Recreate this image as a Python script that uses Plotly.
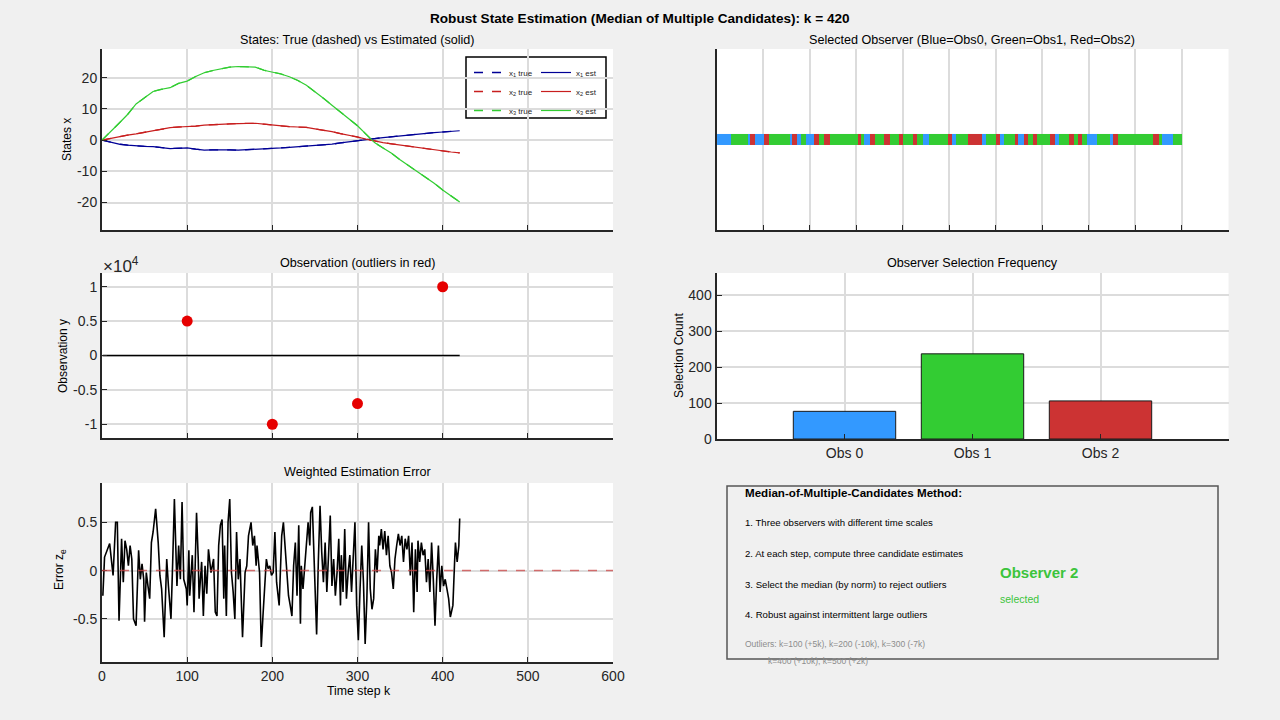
import plotly.graph_objects as go

# ---------------- data ----------------
state_k = [0, 10, 20, 30, 40, 50, 60, 70, 80, 90, 100, 110, 120, 130, 140, 150, 160, 170, 180, 190, 200,
           210, 220, 230, 240, 250, 260, 270, 280, 290, 300, 310, 320, 330, 340, 350, 360, 370, 380, 390,
           400, 410, 420]
x1_vals = [0, -0.7, -1.3, -1.6, -1.9, -2.0, -2.1, -2.4, -2.7, -2.6, -2.5, -2.9, -3.2, -3.1, -3.0, -3.1,
           -3.2, -3.1, -3.0, -2.8, -2.7, -2.5, -2.3, -2.1, -1.9, -1.7, -1.6, -1.3, -0.9, -0.5, -0.1, 0.2,
           0.5, 0.8, 1.1, 1.3, 1.6, 1.9, 2.2, 2.4, 2.6, 2.8, 3.0]
x2_vals = [0, 0.6, 1.1, 1.6, 2.0, 2.5, 3.0, 3.5, 4.0, 4.2, 4.3, 4.5, 4.8, 5.0, 5.1, 5.2, 5.3, 5.3, 5.4,
           5.1, 4.8, 4.5, 4.3, 4.2, 4.1, 3.6, 3.2, 2.7, 2.1, 1.6, 1.0, 0.3, -0.3, -0.8, -1.2, -1.6, -2.0,
           -2.4, -2.8, -3.2, -3.5, -3.8, -4.1]
x3_vals = [0, 2.6, 5.4, 8.2, 11.6, 13.6, 15.6, 16.3, 16.8, 18.2, 18.9, 20.4, 21.6, 22.3, 22.8, 23.4,
           23.6, 23.5, 23.4, 22.4, 21.9, 21.2, 20.3, 19.1, 17.6, 15.6, 13.4, 11.2, 8.9, 6.8, 4.6, 1.9,
           -0.8, -2.5, -4.2, -6.3, -8.2, -10.1, -11.9, -13.8, -16.0, -17.9, -19.8]
state_ticks = [-20, -10, 0, 10, 20]

obs_k = [1, 20, 40, 60, 80, 100, 120, 140, 160, 180, 200, 220, 240, 260, 280, 300, 320, 340, 360, 380, 400, 420]
obs_y = [0, -1.2, -1.9, -2.1, -2.7, -2.5, -3.2, -3.0, -3.2, -3.0, -2.7, -2.3, -1.9, -1.6, -0.9, -0.1,
         0.5, 1.1, 1.6, 2.2, 2.6, 3.0]
outlier_k = [100, 200, 300, 400]
outlier_y = [5000, -10000, -7000, 10000]
obs_ticks = [-10000, -5000, 0, 5000, 10000]
obs_tick_text = ["-1", "-0.5", "0", "0.5", "1"]

# selected observer history as run-lengths (observer index, number of steps)
sel_runs = [(0, 13), (1, 15), (0, 2), (2, 4), (0, 8), (2, 5), (1, 19), (0, 2), (2, 4), (0, 4), (1, 4),
            (0, 8), (2, 4), (1, 5), (2, 5), (1, 25), (2, 3), (1, 3), (0, 5), (2, 5), (1, 8), (2, 5),
            (1, 8), (2, 4), (1, 9), (2, 4), (1, 5), (0, 5), (1, 18), (2, 3), (0, 4), (1, 11), (2, 12),
            (0, 4), (1, 9), (2, 4), (0, 3), (1, 10), (2, 3), (0, 5), (2, 4), (1, 4), (2, 4), (1, 12),
            (2, 4), (0, 4), (1, 9), (2, 4), (1, 4), (2, 4), (1, 4), (0, 9), (1, 12), (0, 3), (2, 4),
            (1, 32), (2, 5), (1, 3), (0, 10), (1, 8)]

obs_names = ["Obs 0", "Obs 1", "Obs 2"]
obs_positions = [1, 2, 3]
sel_counts = [77, 237, 106]
count_ticks = [0, 100, 200, 300, 400]

err_k = [1, 3, 9, 13, 16, 18, 20, 23, 25, 27, 29, 31, 33, 35, 37, 40, 43, 45, 47, 49, 50, 52, 54, 56, 58,
         60, 63, 66, 68, 70, 73, 76, 78, 81, 83, 85, 88, 90, 92, 94, 96, 99, 100, 102, 103, 106, 108, 111,
         113, 114, 117, 119, 121, 123, 125, 128, 131, 133, 135, 137, 139, 141, 143, 144, 146, 148, 150,
         152, 154, 156, 158, 160, 162, 165, 168, 170, 172, 175, 177, 179, 181, 182, 185, 187, 189, 191,
         193, 195, 197, 199, 201, 203, 205, 208, 211, 213, 215, 217, 219, 221, 223, 225, 227, 229, 231,
         233, 234, 236, 240, 242, 244, 245, 247, 249, 252, 254, 256, 258, 260, 262, 264, 266, 268, 270,
         272, 274, 276, 278, 280, 281, 283, 285, 287, 289, 291, 293, 295, 297, 299, 301, 303, 305, 307,
         309, 311, 313, 315, 317, 319, 321, 323, 325, 326, 328, 330, 332, 334, 336, 338, 340, 342, 344,
         346, 348, 350, 352, 354, 356, 358, 360, 362, 364, 366, 368, 370, 371, 373, 375, 377, 379, 381,
         383, 385, 387, 389, 391, 393, 395, 397, 399, 401, 403, 405, 407, 409, 412, 414, 415, 417, 419, 420]
err_v = [-0.26, 0.14, 0.28, -0.05, 0.50, 0.50, -0.52, 0.33, -0.12, 0.31, 0.22, 0.05, 0.26, 0.12, -0.50,
         -0.57, 0.21, -0.09, 0.07, -0.09, -0.53, -0.02, -0.16, -0.29, 0.29, 0.40, 0.64, 0.29, -0.05, -0.19,
         -0.69, 0.12, -0.16, -0.50, 0.09, 0.74, -0.16, 0.26, -0.09, 0.71, -0.09, -0.19, -0.36, 0.21, -0.26,
         0.16, -0.43, 0.60, 0.12, -0.29, 0.09, -0.47, 0.05, -0.24, 0.22, -0.02, 0.12, -0.43, -0.47, 0.26,
         0.47, 0.53, -0.29, 0.26, -0.47, 0.50, 0.74, -0.02, -0.22, -0.50, 0.40, -0.09, 0.12, -0.69, -0.02,
         0.05, 0.36, 0.50, 0.26, 0.36, 0.05, 0.26, -0.02, -0.79, -0.47, -0.19, 0.12, 0.02, 0.05, -0.05,
         -0.02, 0.40, -0.12, -0.36, 0.36, 0.50, 0.26, 0.02, -0.26, -0.36, -0.47, 0.05, 0.29, -0.26, 0.47,
         -0.55, 0.05, -0.19, 0.29, 0.50, 0.26, 0.60, 0.66, 0.19, -0.66, 0.09, 0.67, 0.19, -0.12, 0.29,
         -0.22, 0.16, 0.57, -0.16, 0.12, -0.26, -0.02, 0.33, -0.36, 0.16, -0.22, 0.43, -0.29, -0.02, 0.16,
         -0.22, 0.16, 0.50, -0.36, -0.72, -0.19, 0.26, -0.12, -0.76, -0.29, 0.50, -0.19, -0.40, -0.29,
         0.22, -0.02, 0.36, 0.26, 0.43, 0.22, 0.41, 0.16, 0.36, 0.05, -0.02, -0.19, 0.12, 0.26, 0.38,
         0.26, 0.36, 0.09, 0.33, 0.22, 0.36, -0.05, 0.29, -0.43, 0.22, -0.22, 0.31, 0.09, 0.29, 0.16, 0.22,
         -0.12, 0.12, -0.22, 0.29, -0.09, -0.57, -0.09, 0.26, -0.22, 0.05, -0.16, -0.09, -0.19, -0.29,
         -0.48, -0.36, 0.09, 0.29, 0.09, 0.26, 0.54]
err_ticks = [-0.5, 0, 0.5]
err_tick_text = ["-0.5", "0", "0.5"]

k_now = 420
time_ticks = [0, 100, 200, 300, 400, 500, 600]

# ---------------- style ----------------
FONT = "Liberation Sans, Arial, Helvetica, sans-serif"
W, H = 1280, 720
BG = "#F0F0F0"
AX = "#262626"
GRID = "#DCDCDC"
C_BLUE_LINE = "rgb(0,0,150)"
C_RED_LINE = "rgb(200,30,30)"
C_GREEN_LINE = "rgb(50,205,50)"
C_OBS = ["rgb(51,153,255)", "rgb(51,204,51)", "rgb(204,51,51)"]


def fx(p):
    return p / W


def fy(p):
    return 1 - p / H


sel_seq = []
for obs, n in sel_runs:
    sel_seq.extend([obs] * n)
sel_steps = list(range(1, len(sel_seq) + 1))

fig = go.Figure()

# states (true dashed, est solid)
for name, vals, col in [("1", x1_vals, C_BLUE_LINE), ("2", x2_vals, C_RED_LINE), ("3", x3_vals, C_GREEN_LINE)]:
    fig.add_trace(go.Scatter(x=state_k, y=vals, mode="lines", line=dict(color=col, width=1.3, dash="dash"),
                             name=f"x<sub>{name}</sub> true", xaxis="x", yaxis="y", legend="legend"))
for name, vals, col in [("1", x1_vals, C_BLUE_LINE), ("2", x2_vals, C_RED_LINE), ("3", x3_vals, C_GREEN_LINE)]:
    fig.add_trace(go.Scatter(x=state_k, y=vals, mode="lines", line=dict(color=col, width=1.2),
                             name=f"x<sub>{name}</sub> est", xaxis="x", yaxis="y", legend="legend2"))

# selected observer strip
fig.add_trace(go.Heatmap(x=sel_steps, y=[0], z=[sel_seq], zmin=0, zmax=2, showscale=False,
                         colorscale=[[0, C_OBS[0]], [0.333, C_OBS[0]], [0.334, C_OBS[1]], [0.666, C_OBS[1]],
                                     [0.667, C_OBS[2]], [1, C_OBS[2]]],
                         xaxis="x2", yaxis="y2", hoverinfo="skip"))

# observations
fig.add_trace(go.Scatter(x=obs_k, y=obs_y, mode="lines", line=dict(color="black", width=1.5),
                         xaxis="x3", yaxis="y3", showlegend=False))
fig.add_trace(go.Scatter(x=outlier_k, y=outlier_y, mode="markers", marker=dict(color="#E60000", size=11),
                         xaxis="x3", yaxis="y3", showlegend=False))

# selection frequency
fig.add_trace(go.Bar(x=obs_positions, y=sel_counts, width=0.8,
                     marker=dict(color=C_OBS, line=dict(color="#1a1a1a", width=1)),
                     xaxis="x4", yaxis="y4", showlegend=False))

# error
fig.add_trace(go.Scatter(x=err_k, y=err_v, mode="lines", line=dict(color="black", width=1.6),
                         xaxis="x5", yaxis="y5", showlegend=False))

common = dict(showline=True, linecolor=AX, linewidth=2, ticks="inside", ticklen=5, tickwidth=1.3,
              tickcolor=AX, showgrid=True, gridcolor=GRID, gridwidth=1.5, zeroline=False, automargin=False,
              tickfont=dict(family=FONT, size=14, color=AX))

L = (102, 613)
R = (716.5, 1228.5)


def dom_x(a):
    return [fx(a[0]), fx(a[1])]


def dom_y(top, bot):
    return [fy(bot), fy(top)]


fig.update_layout(
    width=W, height=H, autosize=False, margin=dict(l=0, r=0, t=0, b=0, pad=0),
    paper_bgcolor=BG, plot_bgcolor="white",
    font=dict(family=FONT, color=AX),
    xaxis=dict(common, domain=dom_x(L), range=[0, 600], tickvals=time_ticks, showticklabels=False, anchor="y"),
    yaxis=dict(common, domain=dom_y(49, 230), range=[-28.8, 29.2], tickvals=state_ticks,
               ticktext=[str(v) for v in state_ticks], anchor="x"),
    xaxis2=dict(common, domain=dom_x(R), range=[0, 1.1 * k_now], dtick=42, tick0=0, showticklabels=False,
                anchor="y2"),
    yaxis2=dict(common, domain=dom_y(49, 230), range=[-8.2, 8.2], showgrid=False, ticks="",
                showticklabels=False, anchor="x2"),
    xaxis3=dict(common, domain=dom_x(L), range=[0, 600], tickvals=time_ticks, showticklabels=False, anchor="y3"),
    yaxis3=dict(common, domain=dom_y(273, 438), range=[-12000, 12000],
                tickvals=obs_ticks, ticktext=obs_tick_text, anchor="x3"),
    xaxis4=dict(common, domain=dom_x(R), range=[0, 4], tickvals=obs_positions, ticktext=obs_names, anchor="y4"),
    yaxis4=dict(common, domain=dom_y(273, 439), range=[0, 1.1 * k_now], tickvals=count_ticks, anchor="x4"),
    xaxis5=dict(common, domain=dom_x(L), range=[0, 600], tickvals=time_ticks, anchor="y5"),
    yaxis5=dict(common, domain=dom_y(483, 662), range=[-0.946, 0.907], tickvals=err_ticks,
                ticktext=err_tick_text, anchor="x5"),
    legend=dict(x=fx(469), y=fy(58), xanchor="left", yanchor="top", bgcolor="rgba(255,255,255,0)",
                font=dict(family=FONT, size=8, color=AX), tracegroupgap=0, itemwidth=30),
    legend2=dict(x=fx(536), y=fy(58), xanchor="left", yanchor="top", bgcolor="rgba(255,255,255,0)",
                 font=dict(family=FONT, size=8, color=AX), tracegroupgap=0, itemwidth=30),
)

shapes = [
    # legend box
    dict(type="rect", xref="paper", yref="paper", x0=fx(466), x1=fx(606), y0=fy(118), y1=fy(57),
         line=dict(color="black", width=1.5), fillcolor="white", layer="below"),
    # zero reference in error plot
    dict(type="line", xref="x5 domain", yref="y5", x0=0, x1=1, y0=0, y1=0,
         line=dict(color="rgba(205,70,70,0.75)", width=1.5, dash="dash")),
    # info box
    dict(type="rect", xref="paper", yref="paper", x0=fx(727), x1=fx(1218), y0=fy(659), y1=fy(486),
         line=dict(color="#555555", width=1.5), fillcolor="rgba(0,0,0,0)"),
]
fig.update_layout(shapes=shapes)


def ann(text, x, y, size=12, color="black", bold=False, xanchor="center", yanchor="middle", angle=0):
    t = f"<b>{text}</b>" if bold else text
    return dict(text=t, x=fx(x), y=fy(y), xref="paper", yref="paper", showarrow=False, xanchor=xanchor,
                yanchor=yanchor, textangle=angle, font=dict(family=FONT, size=size, color=color))


annotations = [
    ann(f"Robust State Estimation (Median of Multiple Candidates): k = {k_now}", 640, 18, size=13.6, bold=True),
    ann("States: True (dashed) vs Estimated (solid)", 357, 40, size=12.6),
    ann("Selected Observer (Blue=Obs0, Green=Obs1, Red=Obs2)", 972, 40, size=12.6),
    ann("Observation (outliers in red)", 357, 263, size=12.6),
    ann("Observer Selection Frequency", 972, 263, size=12.6),
    ann("Weighted Estimation Error", 357, 472, size=12.6),
    ann("States x", 67, 140, size=12, angle=-90),
    ann("Observation y", 63, 356, size=12, angle=-90),
    ann("Selection Count", 679, 356, size=12, angle=-90),
    ann("Error z<sub>e</sub>", 60, 570, size=12, angle=-90),
    ann("Time step k", 359, 691, size=12.3),
    ann("\u00d710<sup>4</sup>", 101, 265, size=17, color=AX, xanchor="left"),
    ann("Median-of-Multiple-Candidates Method:", 743, 492, size=11.6, bold=True, xanchor="left"),
    ann("1. Three observers with different time scales", 743, 522, size=9.6, xanchor="left"),
    ann("2. At each step, compute three candidate estimates", 743, 553, size=9.6, xanchor="left"),
    ann("3. Select the median (by norm) to reject outliers", 743, 584, size=9.6, xanchor="left"),
    ann("4. Robust against intermittent large outliers", 743, 614, size=9.6, xanchor="left"),
    ann("Outliers: k=100 (+5k), k=200 (-10k), k=300 (-7k)", 743, 644, size=8.5, color="#8C8C8C",
        xanchor="left"),
    ann("k=400 (+10k), k=500 (+2k)", 766, 661, size=8.5, color="#8C8C8C", xanchor="left"),
    ann("Observer 2", 998, 572, size=15, color="#3CC43C", bold=True, xanchor="left"),
    ann("selected", 998, 599, size=10.5, color="#3CC43C", xanchor="left"),
]
fig.update_layout(annotations=annotations)

fig.write_html("out.html", config={"responsive": False, "displayModeBar": False},
               post_script="document.documentElement.style.margin='0';document.body.style.margin='0';"
                           "document.body.style.overflow='hidden';")
